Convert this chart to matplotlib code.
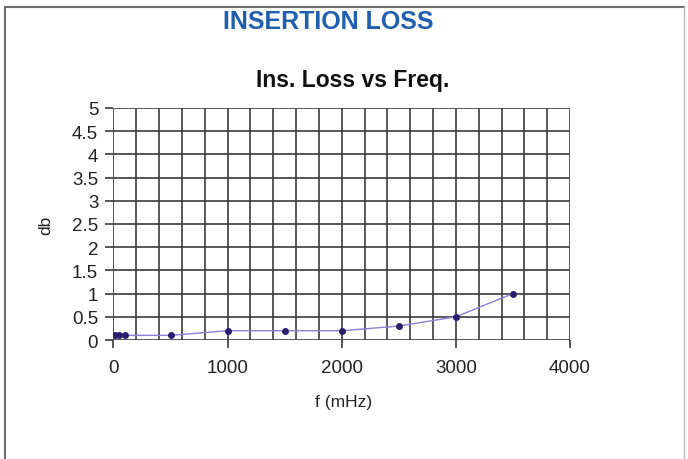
import matplotlib
matplotlib.use("Agg")
import matplotlib.pyplot as plt
from matplotlib.lines import Line2D
import numpy as np

plt.rcParams['font.family'] = ['Liberation Sans', 'DejaVu Sans']

freq = [10, 50, 100, 500, 1000, 1500, 2000, 2500, 3000, 3500]
loss = [0.1, 0.1, 0.1, 0.1, 0.2, 0.2, 0.2, 0.3, 0.5, 1.0]
x_ticks = [0, 1000, 2000, 3000, 4000]
y_ticks = [0, 0.5, 1, 1.5, 2, 2.5, 3, 3.5, 4, 4.5, 5]
y_labels = ['0', '0.5', '1', '1.5', '2', '2.5', '3', '3.5', '4', '4.5', '5']

W, H = 688, 460
fig = plt.figure(figsize=(W/100, H/100), dpi=100)
fig.patch.set_facecolor('white')

ax = fig.add_axes([113.5/W, 1-341/H, (570-113.5)/W, (341-109)/H])
ax.set_xlim(0, 4000)
ax.set_ylim(0, 5)

gc = '#3c3c3c'
for gx in np.arange(0, 4001, 200):
    ax.axvline(gx, color=gc, lw=1.2, zorder=1)
for gy in y_ticks:
    ax.axhline(gy, color=gc, lw=1.2, zorder=1)

ax.plot(freq, loss, color='#8a7fd6', lw=1.0, zorder=3)
ax.plot(freq, loss, 'o', color='#2a1f6e', ms=4, zorder=4)

for s in ax.spines.values():
    s.set_visible(False)
ax.set_xticks(x_ticks)
ax.set_xticklabels([str(v) for v in x_ticks])
ax.set_yticks(y_ticks)
ax.set_yticklabels(y_labels)
ax.tick_params(axis='both', direction='out', length=6, width=1.2, color=gc,
               labelsize=13.5, labelcolor='#222222')
ax.tick_params(axis='x', pad=8)
ax.tick_params(axis='y', pad=5)

fig.text(328/W, 1-22/H, 'INSERTION LOSS', ha='center', va='center',
         fontsize=18, color='#1f5fae', fontweight='bold')
fig.text(353/W, 1-81/H, 'Ins. Loss vs Freq.', ha='center', va='center',
         fontsize=16.5, color='#111111', fontweight='bold')
fig.text(344/W, 1-403/H, 'f (mHz)', ha='center', va='center',
         fontsize=12.5, color='#222222')
fig.text(46/W, 1-225/H, 'db', ha='center', va='center', rotation=90,
         fontsize=12.5, color='#222222')

bc = '#6e6e6e'
fig.add_artist(Line2D([4.5/W, 4.5/W], [0, 1-8/H], color=bc, lw=1.5))
fig.add_artist(Line2D([4.5/W, 684/W], [1-8/H, 1-8/H], color=bc, lw=1.5))
fig.add_artist(Line2D([684/W, 684/W], [0, 1-8/H], color='#bbbbbb', lw=1.0))

fig.savefig('out.png', dpi=100)
